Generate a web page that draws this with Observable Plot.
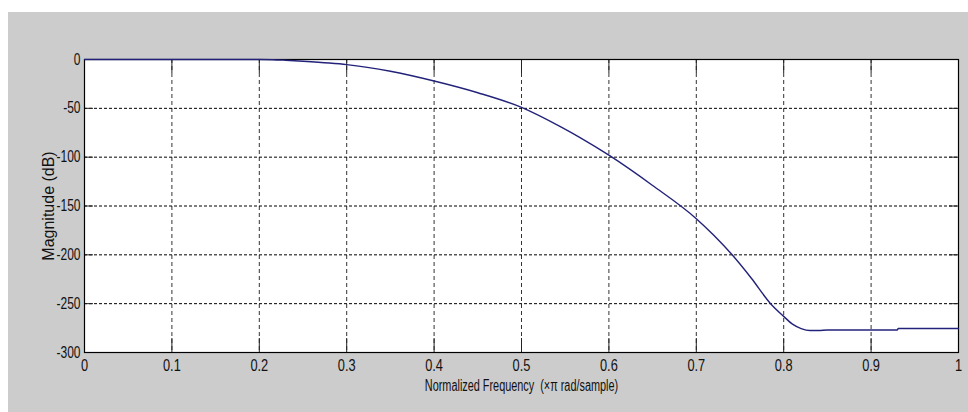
<!DOCTYPE html>
<html><head><meta charset="utf-8">
<script src="https://cdn.jsdelivr.net/npm/d3@7"></script>
<script src="https://cdn.jsdelivr.net/npm/@observablehq/plot@0.6"></script>
<style>
html,body{margin:0;padding:0;background:#ffffff;}
#chart{position:relative;width:968px;height:412px;}
#bg{position:absolute;left:8px;top:12px;right:0;bottom:0;background:#cccccc;}
#chart svg{position:absolute;left:0;top:0;}
</style></head>
<body><div id="chart"><div id="bg"></div></div>
<script>
const freq = [0, 0.1, 0.2, 0.215, 0.23, 0.25, 0.28, 0.3, 0.35, 0.4, 0.45, 0.5, 0.545, 0.567, 0.6, 0.65, 0.7, 0.72, 0.741, 0.763, 0.785, 0.8, 0.81, 0.82, 0.83, 0.84, 0.85, 0.9, 0.93, 0.931, 1];
const magDb = [0, 0, 0, -0.2, -0.8, -1.8, -3.6, -5.2, -12, -22, -34, -49, -69, -80, -98, -129, -163, -180, -200, -224, -250, -263, -271, -275.5, -277.5, -277.5, -277, -277, -277, -275.5, -275.5];
const xTicks = [0, 0.1, 0.2, 0.3, 0.4, 0.5, 0.6, 0.7, 0.8, 0.9, 1];
const yTicks = [0, -50, -100, -150, -200, -250, -300];
const xGrid = [0.1, 0.2, 0.3, 0.4, 0.5, 0.6, 0.7, 0.8, 0.9];
const yGrid = [-50, -100, -150, -200, -250];
const xDomain = [0, 1];
const yDomain = [-300, 0];

const data = freq.map((f, i) => ({f, m: magDb[i]}));
const font = "'Liberation Sans', Arial, sans-serif";

const chart = Plot.plot({
  width: 968, height: 412,
  marginLeft: 84, marginRight: 10, marginTop: 59, marginBottom: 60,
  style: {background: "transparent", fontFamily: font, color: "#111"},
  x: {domain: xDomain},
  y: {domain: yDomain},
  marks: [
    Plot.frame({fill: "white", stroke: null}),
    Plot.gridX(xGrid, {stroke: "#333", strokeOpacity: 1, strokeDasharray: "4,3", strokeWidth: 1}),
    Plot.gridY(yGrid, {stroke: "#000", strokeOpacity: 1, strokeDasharray: "3,2", strokeWidth: 1}),
    // inward ticks, MATLAB style
    Plot.ruleX(xTicks, {x: d => d, y1: yDomain[0], y2: yDomain[0], insetTop: -14, stroke: "#222"}),
    Plot.ruleX(xTicks, {x: d => d, y1: yDomain[1], y2: yDomain[1], insetBottom: -14, stroke: "#222"}),
    Plot.ruleY(yTicks, {y: d => d, x1: xDomain[0], x2: xDomain[0], insetRight: -9, stroke: "#222"}),
    Plot.ruleY(yTicks, {y: d => d, x1: xDomain[1], x2: xDomain[1], insetLeft: -9, stroke: "#222"}),
    Plot.axisX(xTicks, {anchor: "bottom", tickSize: 0, tickPadding: 7, fontSize: 16, label: null, tickFormat: d => String(d)}),
    Plot.axisY(yTicks, {anchor: "left", tickSize: 0, tickPadding: 4, fontSize: 16, label: null, tickFormat: d => String(d)}),
    Plot.frame({stroke: "#000", strokeWidth: 1.2}),
    Plot.line(data, {x: "f", y: "m", stroke: "#22227a", strokeWidth: 1.4, curve: "monotone-x"}),
    Plot.text(["Normalized Frequency  (\u00d7\u03c0 rad/sample)"], {frameAnchor: "bottom", dy: 38, fontSize: 16, fill: "#111", className: "xlab"}),
    Plot.text(["Magnitude (dB)"], {frameAnchor: "left", dx: -36, rotate: -90, textAnchor: "middle", fontSize: 16, fill: "#111"})
  ]
});

// condense text horizontally (narrow MATLAB font look)
function condense(sel, s) {
  chart.querySelectorAll(sel).forEach(t => {
    let tr = t.getAttribute("transform");
    if (!tr) {
      const x = t.getAttribute("x") || 0, y = t.getAttribute("y") || 0;
      t.removeAttribute("x"); t.removeAttribute("y");
      tr = `translate(${x},${y})`;
    }
    t.setAttribute("transform", tr + ` scale(${s},1)`);
  });
}
condense('g[aria-label="x-axis tick label"] text', 0.8);
condense('g[aria-label="y-axis tick label"] text', 0.75);
condense('.xlab text', 0.68);
document.getElementById("chart").append(chart);
</script></body></html>
